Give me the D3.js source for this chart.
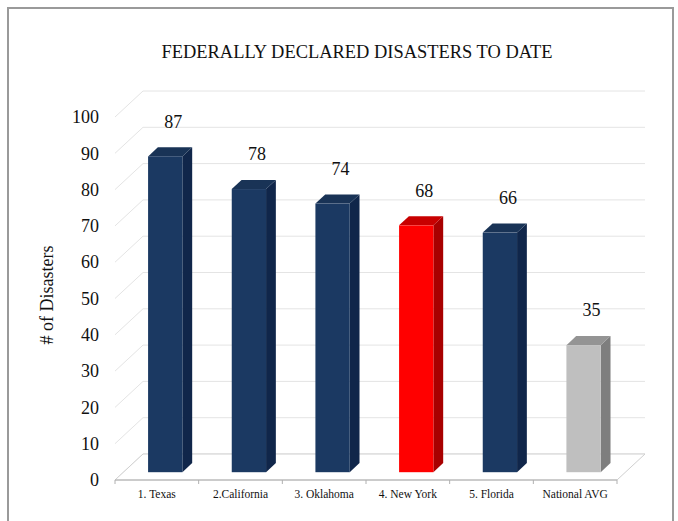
<!DOCTYPE html>
<html>
<head>
<meta charset="utf-8">
<script src="https://cdn.jsdelivr.net/npm/d3@7/dist/d3.min.js"></script>
<style>
  html, body { margin: 0; padding: 0; background: #fff; }
  svg { display: block; }
  text { font-family: "Liberation Serif", "Times New Roman", serif; fill: #111; }
</style>
</head>
<body>
<svg id="chart" width="678" height="521"></svg>
<script>
// ---- data ----
const categories = ["1. Texas", "2.California", "3. Oklahoma", "4. New York", "5. Florida", "National AVG"];
const values = [87, 78, 74, 68, 66, 35];
const yTicks = [0, 10, 20, 30, 40, 50, 60, 70, 80, 90, 100];
const chartTitle = "FEDERALLY DECLARED DISASTERS TO DATE";
const yTitle = "# of Disasters";
const highlightCategory = "4. New York";
const benchmarkCategory = "National AVG";

// ---- layout ----
const W = 678, H = 521;
const svg = d3.select("#chart");
const floorLeft = 115, floorRight = 617, floorY = 480;
const depth = { dx: 28, dy: -26 };
const barFront = 0.3, barBack = 0.65;

const y = d3.scaleLinear().domain([0, 100]).range([480, 117]);
const x = d3.scaleBand().domain(categories).range([floorLeft, floorRight]);

const palettes = {
  normal: { front: "#1B3962", side: "#10264A", top: "#193356" },
  highlight: { front: "#FF0000", side: "#A80000", top: "#C80000" },
  benchmark: { front: "#BFBFBF", side: "#7E7E7E", top: "#949494" }
};
function paletteFor(c) {
  if (c === highlightCategory) return palettes.highlight;
  if (c === benchmarkCategory) return palettes.benchmark;
  return palettes.normal;
}

// frame
svg.append("rect").attr("x", 8).attr("y", 8).attr("width", 665).attr("height", 540)
  .attr("fill", "none").attr("stroke", "#9a9a9a").attr("stroke-width", 2);

// title
svg.append("text").attr("x", 357).attr("y", 52).attr("dy", "0.35em")
  .attr("text-anchor", "middle").style("font-size", "18px")
  .attr("textLength", 391).attr("lengthAdjust", "spacingAndGlyphs")
  .text(chartTitle);

// grid: left wall and back wall
const grid = svg.append("g");
yTicks.forEach(v => {
  const yf = y(v), yb = y(v) + depth.dy;
  grid.append("line").attr("x1", floorLeft).attr("y1", yf)
    .attr("x2", floorLeft + depth.dx).attr("y2", yb)
    .attr("stroke", "#e4e4e4").attr("stroke-width", 1);
  grid.append("line").attr("x1", floorLeft + depth.dx).attr("y1", yb)
    .attr("x2", floorRight + depth.dx).attr("y2", yb)
    .attr("stroke", "#e4e4e4").attr("stroke-width", 1);
});

// floor
svg.append("path")
  .attr("d", `M${floorLeft},${floorY} L${floorRight},${floorY} L${floorRight + depth.dx},${floorY + depth.dy} L${floorLeft + depth.dx},${floorY + depth.dy} Z`)
  .attr("fill", "#fff").attr("stroke", "#d0d0d0").attr("stroke-width", 1);
svg.append("line").attr("x1", floorLeft).attr("x2", floorRight).attr("y1", floorY).attr("y2", floorY)
  .attr("stroke", "#b0b0b0").attr("stroke-width", 1.2);
const boundaries = categories.map(c => x(c)).concat([floorRight]);
svg.selectAll(".xtick").data(boundaries).enter().append("line")
  .attr("x1", d => d).attr("x2", d => d).attr("y1", floorY).attr("y2", floorY + 4)
  .attr("stroke", "#b0b0b0");

// y axis labels
const yAxis = d3.axisLeft(y).tickValues(yTicks).tickSize(0).tickPadding(16);
const yg = svg.append("g").attr("transform", `translate(${floorLeft},0)`).call(yAxis);
yg.select(".domain").remove();
yg.selectAll("text").style("font-size", "18px").style("font-family", '"Liberation Serif", serif').attr("fill", "#111");

// y title
svg.append("text").attr("transform", "translate(47,295) rotate(-90)")
  .attr("text-anchor", "middle").attr("dy", "0.35em").style("font-size", "18px").text(yTitle);

// x labels
svg.selectAll(".xlab").data(categories).enter().append("text")
  .attr("x", c => x(c) + x.bandwidth() / 2).attr("y", 494).attr("dy", "0.35em")
  .attr("text-anchor", "middle").style("font-size", "11.5px").text(c => c);

// bars
const bw = x.bandwidth() * 0.41;
const fdx = depth.dx * barFront, fdy = depth.dy * barFront;
const bdx = depth.dx * (barBack - barFront), bdy = depth.dy * (barBack - barFront);
const bars = svg.selectAll(".bar").data(categories.map((c, i) => ({ c, v: values[i] }))).enter().append("g");
bars.each(function (d) {
  const g = d3.select(this);
  const p = paletteFor(d.c);
  const cx = x(d.c) + x.bandwidth() / 2 + fdx;
  const xl = cx - bw / 2, xr = cx + bw / 2;
  const yb = y(0) + fdy, yt = y(d.v) + fdy;
  g.append("path").attr("d", `M${xr},${yt} L${xr + bdx},${yt + bdy} L${xr + bdx},${yb + bdy} L${xr},${yb} Z`).attr("fill", p.side);
  g.append("path").attr("d", `M${xl},${yt} L${xr},${yt} L${xr + bdx},${yt + bdy} L${xl + bdx},${yt + bdy} Z`).attr("fill", p.top);
  g.append("rect").attr("x", xl).attr("y", yt).attr("width", bw).attr("height", yb - yt).attr("fill", p.front);
  g.append("text").attr("x", cx + 8).attr("y", yt - 35).attr("dy", "0.35em")
    .attr("text-anchor", "middle").style("font-size", "18px").text(d.v);
});
</script>
</body>
</html>
